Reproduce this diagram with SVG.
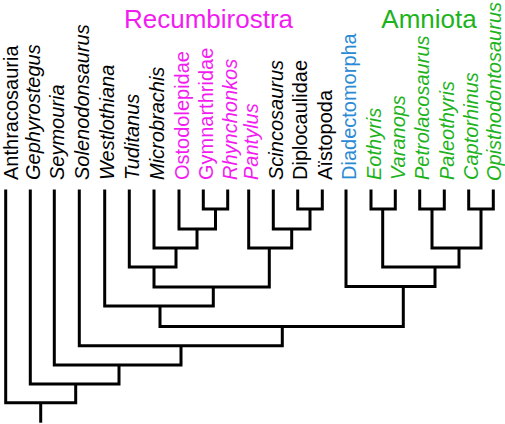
<svg xmlns="http://www.w3.org/2000/svg" width="505" height="424" viewBox="0 0 505 424">
<style>
.lbl{font-family:"Liberation Sans",Arial,Helvetica,sans-serif;font-size:20px}
.it{font-style:italic}
.k{fill:#000}
.m{fill:#f21cf0}
.g{fill:#1db31d}
.b{fill:#2a8ad4}
.ttl{font-family:"Liberation Sans",Arial,Helvetica,sans-serif;font-size:26px;text-anchor:middle}
.e{fill:none;stroke:#000;stroke-width:3;stroke-linejoin:miter;stroke-linecap:butt}
</style>
<rect width="505" height="424" fill="#fff"/>
<g id="titles">
<text class="ttl m" x="208.5" y="28">Recumbirostra</text>
<text class="ttl g" x="429" y="28">Amniota</text>
</g>
<g id="taxa">
<g id="t-anthracosauria"><text class="lbl k" transform="translate(18.2,180) rotate(-90)">Anthracosauria</text></g>
<g id="t-gephyrostegus"><text class="lbl k it" transform="translate(39.8,180) rotate(-90)">Gephyrostegus</text></g>
<g id="t-seymouria"><text class="lbl k it" transform="translate(63.8,180) rotate(-90)">Seymouria</text></g>
<g id="t-solenodonsaurus"><text class="lbl k it" transform="translate(88.8,180) rotate(-90)">Solenodonsaurus</text></g>
<g id="t-westlothiana"><text class="lbl k it" transform="translate(114.2,180) rotate(-90)">Westlothiana</text></g>
<g id="t-tuditanus"><text class="lbl k it" transform="translate(138.8,180) rotate(-90)">Tuditanus</text></g>
<g id="t-microbrachis"><text class="lbl k it" transform="translate(163.5,180) rotate(-90)">Microbrachis</text></g>
<g id="t-ostodolepidae"><text class="lbl m" transform="translate(188.5,180) rotate(-90)">Ostodolepidae</text></g>
<g id="t-gymnarthridae"><text class="lbl m" transform="translate(212.8,180) rotate(-90)">Gymnarthridae</text></g>
<g id="t-rhynchonkos"><text class="lbl m it" transform="translate(237.2,180) rotate(-90)">Rhynchonkos</text></g>
<g id="t-pantylus"><text class="lbl m it" transform="translate(258.2,180) rotate(-90)">Pantylus</text></g>
<g id="t-scincosaurus"><text class="lbl k it" transform="translate(282.8,180) rotate(-90)">Scincosaurus</text></g>
<g id="t-diplocaulidae"><text class="lbl k" transform="translate(307.2,180) rotate(-90)">Diplocaulidae</text></g>
<g id="t-aistopoda"><text class="lbl k" transform="translate(331.8,180) rotate(-90)">Aïstopoda</text></g>
<g id="t-diadectomorpha"><text class="lbl b" transform="translate(355.5,180) rotate(-90)">Diadectomorpha</text></g>
<g id="t-eothyris"><text class="lbl g it" transform="translate(380.5,180) rotate(-90)">Eothyris</text></g>
<g id="t-varanops"><text class="lbl g it" transform="translate(404.8,180) rotate(-90)">Varanops</text></g>
<g id="t-petrolacosaurus"><text class="lbl g it" transform="translate(429.2,180) rotate(-90)">Petrolacosaurus</text></g>
<g id="t-paleothyris"><text class="lbl g it" transform="translate(453.8,180) rotate(-90)">Paleothyris</text></g>
<g id="t-captorhinus"><text class="lbl g it" transform="translate(478.2,180) rotate(-90)">Captorhinus</text></g>
<g id="t-opisthodontosaurus"><text class="lbl g it" transform="translate(500.5,181) rotate(-90)">Opisthodontosaurus</text></g>
</g>
<g id="connectors" class="e">
<path d="M203.3 189.5 V209 H227.7 V189.5"/>
<path d="M179 189.5 V229 H215.5 V209"/>
<path d="M154 189.5 V248 H197 V229"/>
<path d="M129.3 189.5 V267 H176 V248"/>
<path d="M297.7 189.5 V209 H322.3 V189.5"/>
<path d="M273.3 189.5 V229 H310 V209"/>
<path d="M248.7 189.5 V248 H291.7 V229"/>
<path d="M154 267 V287 H269.3 V248"/>
<path d="M104.7 189.5 V306 H213.3 V287"/>
<path d="M371 189.5 V209 H395.3 V189.5"/>
<path d="M419.7 189.5 V209 H444.3 V189.5"/>
<path d="M468.7 189.5 V209 H493.3 V189.5"/>
<path d="M432 209 V248 H481 V209"/>
<path d="M382.7 209 V267 H459 V248"/>
<path d="M346 189.5 V286.5 H435 V267"/>
<path d="M160 306 V326.5 H403.3 V286.5"/>
<path d="M79.3 189.5 V345.7 H282.3 V326.5"/>
<path d="M54.3 189.5 V365 H181 V345.7"/>
<path d="M30.3 189.5 V384 H119 V365"/>
<path d="M5.7 189.5 V402.7 H75.7 V384"/>
<path d="M40.7 402.7 V422.7"/>
</g>
</svg>
